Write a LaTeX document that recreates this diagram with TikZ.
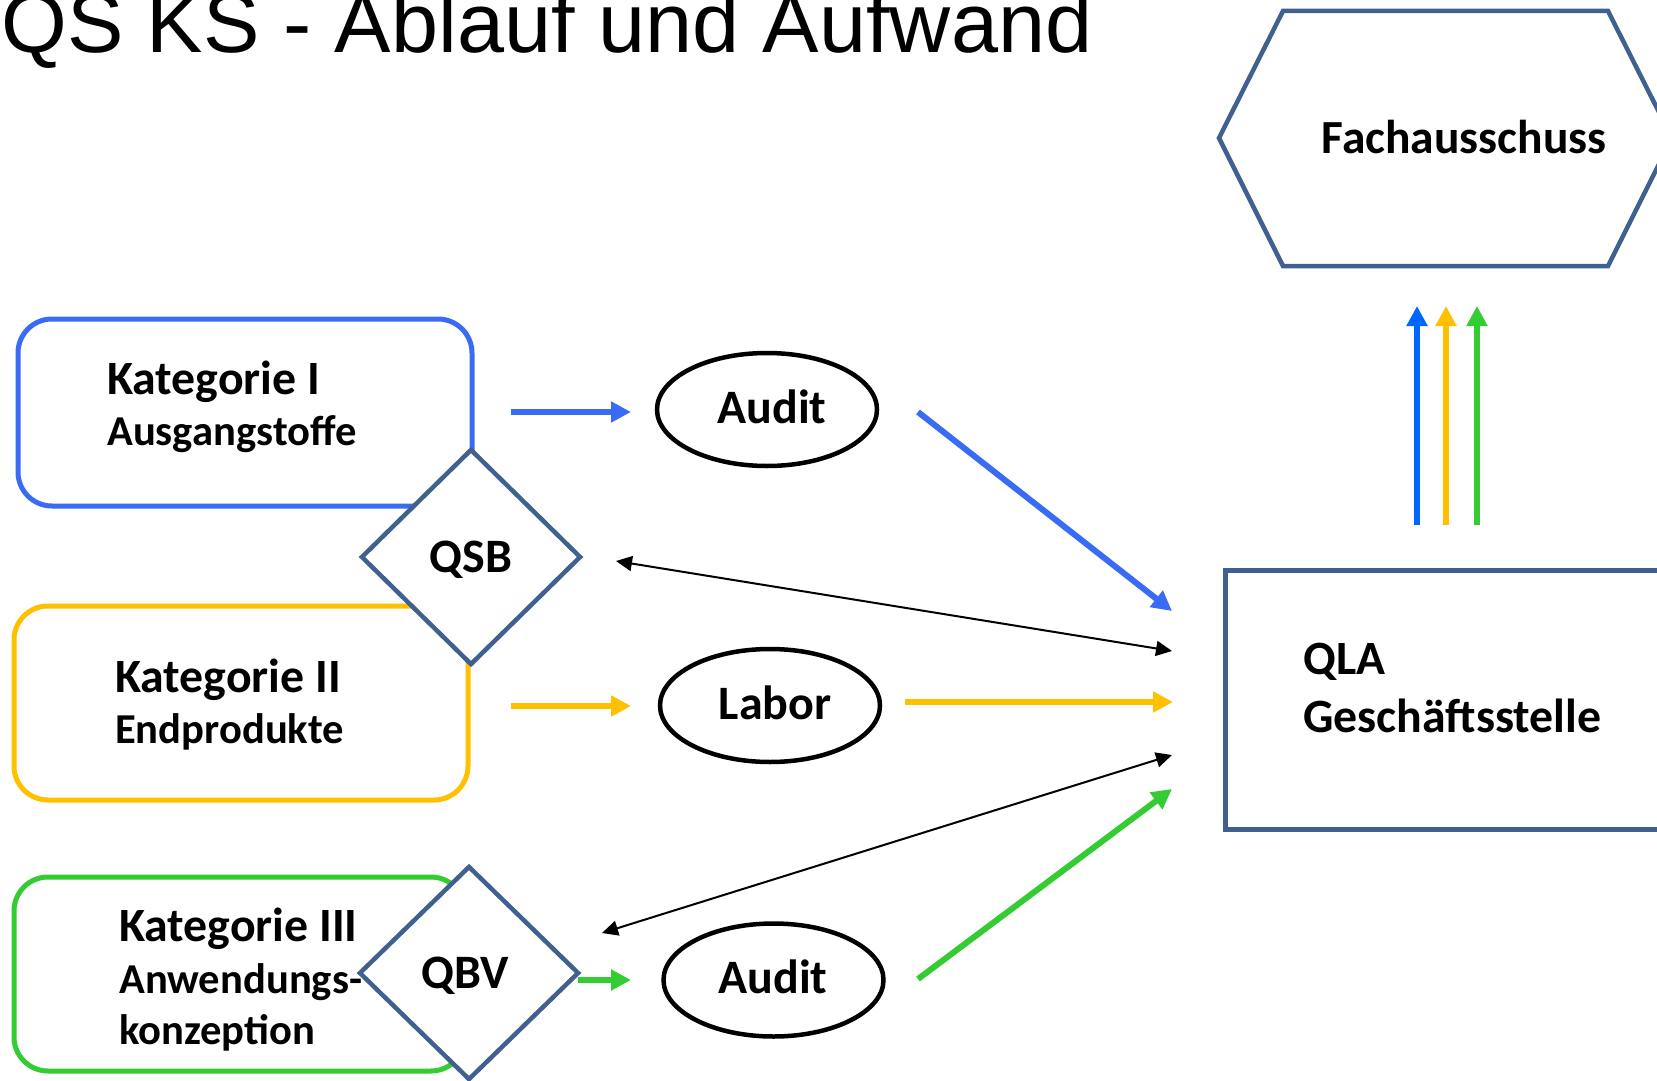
\documentclass[tikz,border=0pt]{standalone}
\usepackage{fontspec}
\setmainfont{Carlito}
\newfontfamily\titlefont{Liberation Sans}
\usetikzlibrary{shapes.geometric,arrows.meta}
\definecolor{cblue}{HTML}{3A6BF5}
\definecolor{cblueup}{HTML}{0066FF}
\definecolor{cyellow}{HTML}{FFC000}
\definecolor{cgreen}{HTML}{33CC33}
\definecolor{cslate}{HTML}{40618F}
\begin{document}
\begin{tikzpicture}[x=1pt,y=-1pt,
  catbox/.style={draw, rounded corners=34pt, line width=5pt, inner sep=0, minimum width=454pt},
  dia/.style={draw=cslate, fill=white, diamond, line width=4.5pt, inner sep=0, minimum width=220pt, minimum height=216pt},
  ell/.style={draw=black, ellipse, line width=4.5pt, inner sep=0, minimum width=220pt, minimum height=113pt},
  ctxt/.style={inner sep=0, font=\fontsize{48}{56}\selectfont\bfseries},
  bigtxt/.style={anchor=base west, inner sep=0, font=\fontsize{47.8}{56}\selectfont\bfseries},
  smalltxt/.style={anchor=base west, inner sep=0, font=\fontsize{42.6}{50}\selectfont\bfseries},
  fat/.style={line width=6pt, -{Triangle[length=20pt,width=20pt]}},
  thin/.style={line width=2pt, {Triangle[length=16pt,width=15pt]}-{Triangle[length=16pt,width=15pt]}}
]
\useasboundingbox (0,0) rectangle (1657,1081);
\fill[white] (0,0) rectangle (1657,1081);
\clip (0,0) rectangle (1657,1081);

% title
\node[anchor=base west, inner sep=0, font=\titlefont\fontsize{84.6}{96}\selectfont] (title) at (1,53) {QS KS - Ablauf und Aufwand};

% category boxes
\node[catbox, draw=cblue, minimum height=187pt] (kat1) at (245,412.5) {};
\node[catbox, draw=cyellow, minimum height=194pt] (kat2) at (241,703) {};
\node[catbox, draw=cgreen, minimum height=194pt, minimum width=451pt] (kat3) at (239.5,974) {};

% diamonds
\node[dia] (qsb) at (471,557) {};
\node[dia, minimum height=214pt] (qbv) at (469,973) {};
\node[ctxt] (qsbt) at (471,560) {QSB};
\node[ctxt] (qbvt) at (465,976) {QBV};

% category texts
\node[bigtxt] (k1a) at (107,394) {Kategorie I};
\node[smalltxt] (k1b) at (107,445) {Ausgangstoffe};
\node[bigtxt] (k2a) at (115,692) {Kategorie II};
\node[smalltxt] (k2b) at (115,743) {Endprodukte};
\node[bigtxt] (k3a) at (119,941) {Kategorie III};
\node[smalltxt] (k3b) at (119,993) {Anwendungs-};
\node[smalltxt] (k3c) at (119,1044) {konzeption};

% ellipses
\node[ell] (audit1) at (767,409.5) {};
\node[ell] (labor) at (770,705.5) {};
\node[ell] (audit2) at (773.5,980) {};
\node[ctxt] (audit1t) at (772,407) {Audit};
\node[ctxt] (labort) at (775,702.5) {Labor};
\node[ctxt] (audit2t) at (773,977) {Audit};

% Fachausschuss hexagon
\draw[cslate, line width=4.5pt] (1283,11) -- (1608,11) -- (1672,138) -- (1608,266) -- (1283,266) -- (1219,138) -- cycle;
\node[anchor=base, inner sep=0, font=\fontsize{47.5}{56}\selectfont\bfseries] (fach) at (1464,153) {Fachausschuss};

% QLA box
\node[draw=cslate, line width=4.5pt, anchor=north west, inner sep=0, minimum width=500pt, minimum height=259pt] (qla) at (1223,568) {};
\node[bigtxt] (qla1) at (1303,674) {QLA};
\node[bigtxt] (qla2) at (1303,732) {Geschäftsstelle};

% connector end points
\coordinate (b1s) at (511,412); \coordinate (b1e) at (631,412);
\coordinate (y1s) at (511,706); \coordinate (y1e) at (631,706);
\coordinate (g1s) at (578,980); \coordinate (g1e) at (631,980);
\coordinate (b2s) at (918,412); \coordinate (b2e) at (1172,611);
\coordinate (y2s) at (905,702); \coordinate (y2e) at (1173,702);
\coordinate (g2s) at (918,979); \coordinate (g2e) at (1172,789);
\coordinate (t1s) at (616,561); \coordinate (t1e) at (1172,651);
\coordinate (t2s) at (602,933); \coordinate (t2e) at (1172,755);
\coordinate (ub) at (1417,525); \coordinate (ubt) at (1417,306);
\coordinate (uy) at (1446,525); \coordinate (uyt) at (1446,306);
\coordinate (ug) at (1477,525); \coordinate (ugt) at (1477,306);

% colored arrows
\draw[fat, cblue] (b1s) -- (b1e);
\draw[fat, cyellow] (y1s) -- (y1e);
\draw[fat, cgreen] (g1s) -- (g1e);
\draw[fat, cblue] (b2s) -- (b2e);
\draw[fat, cyellow] (y2s) -- (y2e);
\draw[fat, cgreen] (g2s) -- (g2e);

% black double arrows
\draw[thin] (t1s) -- (t1e);
\draw[thin] (t2s) -- (t2e);

% up arrows
\draw[fat, cblueup] (ub) -- (ubt);
\draw[fat, cyellow] (uy) -- (uyt);
\draw[fat, cgreen] (ug) -- (ugt);
\end{tikzpicture}
\end{document}
